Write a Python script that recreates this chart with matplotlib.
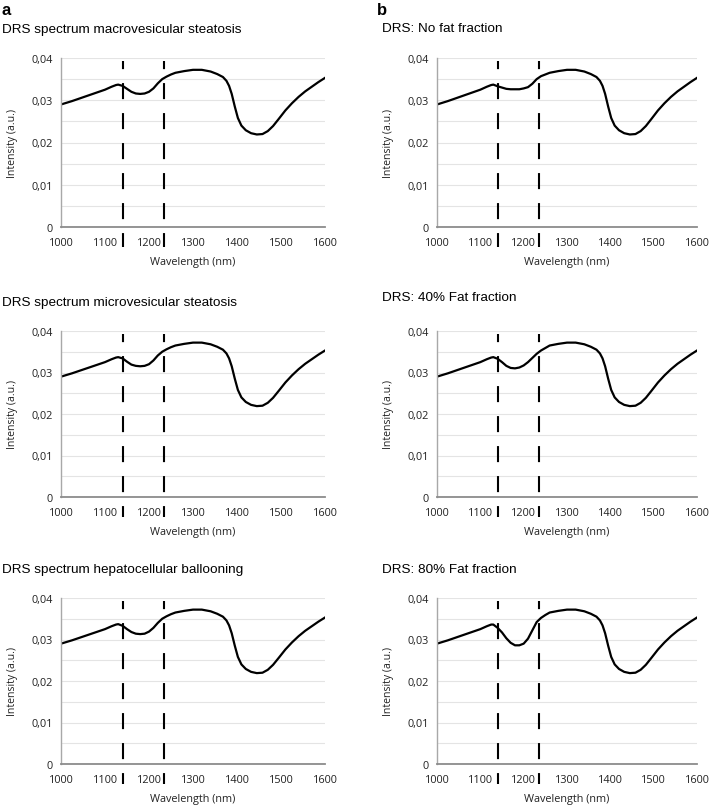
import matplotlib
matplotlib.use('Agg')
import matplotlib.pyplot as plt
import numpy as np

W, H = 709, 812
TITLE_FONT = ['Liberation Sans', 'DejaVu Sans']
AXIS_FONT = ['Open Sans', 'DejaVu Sans']

# spectra are shared outside the fat band, only the 1125-1250 nm part changes
wl_left = [1000, 1025, 1050, 1075, 1100, 1115, 1125]
int_left = [29.0, 29.8, 30.7, 31.6, 32.5, 33.2, 33.6]
wl_band = [1130, 1140, 1150, 1160, 1170, 1180, 1190, 1200, 1210, 1220, 1230, 1240, 1250]
wl_right = [1260, 1280, 1300, 1320, 1340, 1355, 1368, 1376, 1382, 1388, 1395, 1402, 1410,
            1420, 1432, 1445, 1458, 1470, 1482, 1495, 1510, 1525, 1540, 1555, 1570, 1585, 1600]
int_right = [36.5, 36.9, 37.2, 37.2, 36.8, 36.2, 35.5, 34.6, 33.4, 31.5, 28.5, 25.8, 24.0,
             22.9, 22.2, 21.9, 22.0, 22.7, 23.9, 25.6, 27.6, 29.3, 30.8, 32.1, 33.2, 34.3, 35.3]

band_macro = [33.7, 33.4, 32.7, 32.0, 31.6, 31.5, 31.6, 32.0, 32.8, 34.0, 35.0, 35.6, 36.1]
band_micro = [33.7, 33.4, 32.6, 31.9, 31.6, 31.5, 31.6, 32.0, 32.9, 34.1, 35.0, 35.6, 36.1]
band_balloon = [33.7, 33.3, 32.5, 31.8, 31.4, 31.3, 31.4, 31.9, 32.8, 34.0, 35.0, 35.6, 36.1]
band_fat0 = [33.7, 33.3, 33.0, 32.7, 32.6, 32.6, 32.6, 32.8, 33.1, 33.9, 35.0, 35.7, 36.1]
band_fat40 = [33.7, 33.3, 32.5, 31.6, 31.1, 31.0, 31.2, 31.7, 32.5, 33.5, 34.5, 35.3, 35.9]
band_fat80 = [33.6, 32.8, 31.7, 30.3, 29.2, 28.6, 28.6, 29.0, 30.2, 32.2, 34.2, 35.2, 35.9]

titles = ['DRS spectrum macrovesicular steatosis', 'DRS: No fat fraction',
          'DRS spectrum microvesicular steatosis', 'DRS: 40% Fat fraction',
          'DRS spectrum hepatocellular ballooning', 'DRS: 80% Fat fraction']
bands = [band_macro, band_fat0, band_micro, band_fat40, band_balloon, band_fat80]
markers_nm = [1140, 1235]
xticks = [1000, 1100, 1200, 1300, 1400, 1500, 1600]
yticks = [0, 0.01, 0.02, 0.03, 0.04]
ytick_labels = ['0', '0,01', '0,02', '0,03', '0,04']

# pixel boxes of the plot areas: (left, right, top, bottom)
cols = [(61, 325), (437, 697)]
rows = [(59, 228), (332, 498), (599, 765)]
title_base = [(33, 32), (306, 301), (573, 573)]
title_x = [2, 382]

fig = plt.figure(figsize=(W / 100, H / 100), dpi=100)
fig.text(2 / W, 1 - 15 / H, 'a', fontsize=12, fontweight='bold', family=TITLE_FONT, va='baseline')
fig.text(377 / W, 1 - 15 / H, 'b', fontsize=12, fontweight='bold', family=TITLE_FONT, va='baseline')

for i, (title, band) in enumerate(zip(titles, bands)):
    r, c = divmod(i, 2)
    l, rr = cols[c]; t, b = rows[r]
    ax = fig.add_axes([l / W, 1 - b / H, (rr - l) / W, (b - t) / H])
    wl = wl_left + wl_band + wl_right
    val = np.array(int_left + band + int_right) / 1000
    ax.plot(wl, val, color='black', lw=1.6, solid_joinstyle='round')
    for m in markers_nm:
        ax.plot([m, m], [0.03935, -0.0048], color='black', lw=1.5, clip_on=False,
                linestyle=(3.8, (7.7, 6.7)))
    ax.set_xlim(1000, 1600); ax.set_ylim(0, 0.04)
    ax.set_yticks(yticks)
    ax.set_yticklabels(ytick_labels)
    ax.set_yticks(np.arange(0.005, 0.04, 0.01), minor=True)
    ax.yaxis.grid(True, which='both', color='#e4e4e4', lw=0.8)
    ax.set_axisbelow(True)
    ax.set_xticks(xticks)
    ax.tick_params(which='both', length=0, labelsize=7.8, colors='#222222')
    ax.tick_params(axis='x', pad=7)
    ax.tick_params(axis='y', pad=6)
    for lab in ax.get_xticklabels() + ax.get_yticklabels():
        lab.set_family(AXIS_FONT)
    for s in ['top', 'right']:
        ax.spines[s].set_visible(False)
    ax.spines['left'].set_color('#a8a8a8'); ax.spines['left'].set_linewidth(1.0)
    ax.spines['bottom'].set_color('#8c8c8c'); ax.spines['bottom'].set_linewidth(1.3)
    fig.text(title_x[c] / W, 1 - title_base[r][c] / H, title, fontsize=9.7,
             family=TITLE_FONT, va='baseline')
    fig.text((l - 48) / W, 1 - (t + b) / 2 / H, 'Intensity (a.u.)', rotation=90,
             fontsize=7.6, family=AXIS_FONT, ha='center', va='center', color='#222222')
    fig.text((l + rr) / 2 / W, 1 - (b + 35) / H, 'Wavelength (nm)', fontsize=7.8,
             family=AXIS_FONT, ha='center', va='center', color='#222222')

fig.savefig('out.png', dpi=100)
